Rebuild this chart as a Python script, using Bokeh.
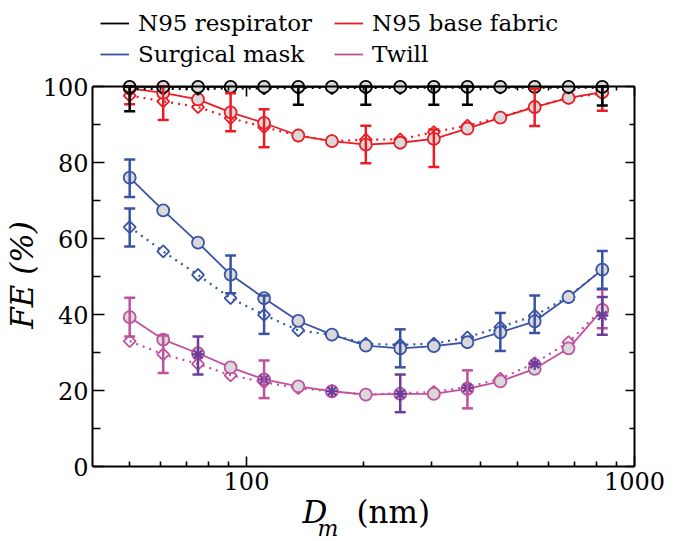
import numpy as np
from bokeh.plotting import figure
from bokeh.models import (Range1d, LogAxis, LinearAxis, FixedTicker, PrintfTickFormatter,
                          Legend, LegendItem, Label)
from bokeh.embed import file_html
from bokeh.resources import INLINE

# ---------------- data ----------------
d_nm = [50, 61, 75, 91, 111, 136, 166, 203, 249, 304, 371, 451, 553, 676, 826]

n95_resp_circle = [99.9, 99.9, 99.9, 99.9, 99.9, 99.9, 99.9, 99.9, 99.9, 99.9, 99.9, 99.9, 99.9, 99.9, 99.9]
n95_resp_diamond = [99.3, 99.4, 99.4, 99.5, 99.5, 99.6, 99.6, 99.6, 99.6, 99.7, 99.7, 99.7, 99.7, 99.7, 99.7]

n95_base_circle = [99.5, 98.3, 96.6, 93.2, 90.4, 87.1, 85.6, 84.7, 85.2, 86.2, 88.9, 91.8, 94.6, 97.0, 98.5]
n95_base_diamond = [97.6, 96.1, 94.6, 91.7, 89.3, 87.1, 85.6, 86.0, 86.1, 88.0, 89.7, 91.9, 94.7, 97.0, 98.2]

surgical_circle = [76.0, 67.4, 58.9, 50.5, 44.3, 38.3, 34.7, 31.8, 31.1, 31.7, 32.7, 35.3, 38.2, 44.6, 51.8]
surgical_diamond = [63.0, 56.6, 50.4, 44.3, 39.9, 35.8, 34.7, 32.3, 32.0, 32.3, 34.0, 36.7, 39.7, 44.7, 51.8]

twill_circle = [39.3, 33.4, 29.8, 26.1, 22.9, 21.1, 19.8, 18.9, 19.1, 19.1, 20.4, 22.4, 25.7, 31.1, 41.2]
twill_diamond = [33.0, 29.5, 27.0, 24.0, 22.2, 20.6, 19.8, 18.9, 19.3, 19.6, 20.9, 23.1, 27.2, 32.7, 41.5]

twill_star_x = [75, 111, 166, 249, 371, 553, 826]
twill_star_y = [29.5, 22.9, 19.8, 19.1, 20.7, 27.0, 39.7]

# error bars (x, lower, upper)
resp_err_x = [50, 136, 203, 304, 371, 826]
resp_err_lo = [93.5, 95.2, 95.2, 95.2, 95.2, 95.0]
resp_err_hi = [100.0, 100.0, 100.0, 100.0, 100.0, 100.0]

base_err_x = [50, 61, 91, 111, 203, 304, 553, 826]
base_err_lo = [95.3, 91.2, 88.2, 84.0, 79.8, 78.8, 89.6, 93.6]
base_err_hi = [100.0, 100.0, 98.2, 94.0, 89.7, 88.7, 99.4, 100.0]

surg_err_x = [50, 50, 91, 111, 249, 451, 553, 826]
surg_err_lo = [70.9, 57.9, 45.6, 34.9, 26.1, 30.4, 35.1, 46.8]
surg_err_hi = [80.8, 67.9, 55.5, 45.0, 36.1, 40.4, 45.0, 56.7]

twill_err_x = [50, 61, 111, 371, 826]
twill_err_lo = [34.2, 24.6, 18.0, 15.3, 36.4]
twill_err_hi = [44.4, 34.5, 27.9, 25.3, 46.6]

star_err_x = [75, 249, 826]
star_err_lo = [24.2, 14.3, 34.7]
star_err_hi = [34.2, 24.2, 44.6]

x_major = [100, 1000]
x_minor = [50, 60, 70, 80, 90, 200, 300, 400, 500, 600, 700, 800, 900]
y_major = [0, 20, 40, 60, 80, 100]
y_minor = [10, 30, 50, 70, 90]

# ---------------- style ----------------
BLACK = "#000000"
RED = "#ec1c24"
BLUE = "#3853a4"
PINK = "#c0519f"
PURPLE = "#6a3d9a"
GREY = "#d9d9d9"
FONT = "DejaVu Serif"

# frame covers everything except the left labels: y=0 at 466 px, y=100 at 86 px,
# x=100 at 246 px, x=1000 at 634 px (388 px per decade)
TOP = 8
RIGHT = 4
p = figure(width=677, height=541, x_axis_type="log", x_axis_location="above",
           x_range=Range1d(10 ** (2 - (246 - 92) / 388), 10 ** (3 + (677 - RIGHT - 634) / 388)),
           y_range=Range1d(-(541 - 466) / 3.8, 100 + (86 - TOP) / 3.8),
           output_backend="svg", toolbar_location=None,
           min_border_left=92, min_border_right=RIGHT, min_border_top=TOP, min_border_bottom=0)
p.outline_line_color = None
p.grid.visible = False
p.background_fill_color = "white"
p.border_fill_color = "white"
X_LO = p.x_range.start


def style_axis(ax, maj_in, min_in, maj_out=0, min_out=0):
    ax.major_tick_in = maj_in
    ax.major_tick_out = maj_out
    ax.minor_tick_in = min_in
    ax.minor_tick_out = min_out
    ax.axis_line_width = 2
    ax.axis_line_color = BLACK
    ax.major_tick_line_width = 1.6
    ax.minor_tick_line_width = 1.6
    ax.major_tick_line_color = BLACK
    ax.minor_tick_line_color = BLACK
    ax.major_label_text_font = FONT
    ax.major_label_text_font_size = "24px"
    ax.major_label_text_color = BLACK


# bottom axis (pinned at y=0, labels pushed below the line)
xax = p.xaxis[0]
xax.ticker = FixedTicker(ticks=x_major, minor_ticks=x_minor)
xax.formatter = PrintfTickFormatter(format="%d")
xax.fixed_location = 0
xax.bounds = (X_LO, 1000)
style_axis(xax, 0, 0, 10, 5)
xax.major_label_standoff = -33

# top axis pinned at y=100
top = LogAxis(ticker=FixedTicker(ticks=x_major, minor_ticks=x_minor),
              major_label_overrides={100: "", 1000: ""}, fixed_location=100, bounds=(X_LO, 1000))
style_axis(top, 10, 4)
top.major_label_text_font_size = "1px"
top.major_label_standoff = 0
p.add_layout(top, "above")

yax = p.yaxis[0]
yax.ticker = FixedTicker(ticks=y_major, minor_ticks=y_minor)
yax.bounds = (0, 100)
style_axis(yax, 12, 8)
yax.major_label_standoff = 4
yax.axis_label = "FE (%)"
yax.axis_label_text_font = FONT
yax.axis_label_text_font_style = "italic"
yax.axis_label_text_font_size = "31px"
yax.axis_label_text_color = BLACK
yax.axis_label_standoff = 0

# right axis pinned at x=1000
right = LinearAxis(ticker=FixedTicker(ticks=y_major, minor_ticks=y_minor),
                   major_label_overrides={v: "" for v in y_major}, bounds=(0, 100),
                   fixed_location=1000)
style_axis(right, 9, 5)
right.major_label_text_font_size = "1px"
right.major_label_standoff = 0
p.add_layout(right, "right")


def series(circ, diam, color):
    p.line(d_nm, diam, line_color=color, line_width=2.2, line_dash="2 5")
    p.scatter(d_nm, diam, marker="square", angle=np.pi / 4, size=8.5,
              line_color=color, line_width=1.8, fill_color=None)
    r = p.line(d_nm, circ, line_color=color, line_width=1.8)
    p.scatter(d_nm, circ, marker="circle", size=12, line_color=color,
              line_width=1.8, fill_color=GREY)
    return r


r_twill = series(twill_circle, twill_diamond, PINK)
r_surg = series(surgical_circle, surgical_diamond, BLUE)
r_base = series(n95_base_circle, n95_base_diamond, RED)
r_resp = series(n95_resp_circle, n95_resp_diamond, BLACK)

p.scatter(twill_star_x, twill_star_y, marker="asterisk", size=12, line_color=PURPLE, line_width=2.2)


def errbars(x, lo, hi, color):
    p.segment(x0=x, y0=lo, x1=x, y1=hi, line_color=color, line_width=2.5)
    p.scatter(x, lo, marker="dash", size=11, line_color=color, line_width=2.5)
    p.scatter(x, hi, marker="dash", size=11, line_color=color, line_width=2.5)


errbars(twill_err_x, twill_err_lo, twill_err_hi, PINK)
errbars(star_err_x, star_err_lo, star_err_hi, PURPLE)
errbars(surg_err_x, surg_err_lo, surg_err_hi, BLUE)
errbars(base_err_x, base_err_lo, base_err_hi, RED)
errbars(resp_err_x, resp_err_lo, resp_err_hi, BLACK)

legend = Legend(items=[LegendItem(label="N95 respirator", renderers=[r_resp]),
                       LegendItem(label="N95 base fabric", renderers=[r_base]),
                       LegendItem(label="Surgical mask", renderers=[r_surg]),
                       LegendItem(label="Twill", renderers=[r_twill])],
                orientation="horizontal", ncols=2, location=(8, 541 - 69),
                label_text_font=FONT, label_text_font_size="23px", label_text_color=BLACK,
                glyph_width=29, glyph_height=20, label_standoff=9, label_width=196,
                label_height=31, spacing=0, padding=0, margin=0, border_line_color=None,
                background_fill_alpha=0)
p.add_layout(legend)

# x-axis title (inside the frame region below y=0)
p.add_layout(Label(x=139.4, y=-12.0, text="D", text_align="left", text_baseline="alphabetic",
                   text_font=FONT, text_font_style="italic", text_font_size="31px", text_color=BLACK))
p.add_layout(Label(x=152.4, y=-16.3, text="m", text_align="left", text_baseline="alphabetic",
                   text_font=FONT, text_font_style="italic", text_font_size="22px", text_color=BLACK))
p.add_layout(Label(x=192.1, y=-12.0, text="(nm)", text_align="left", text_baseline="alphabetic",
                   text_font=FONT, text_font_size="31px", text_color=BLACK))

open("out.html", "w").write(file_html(p, INLINE))
